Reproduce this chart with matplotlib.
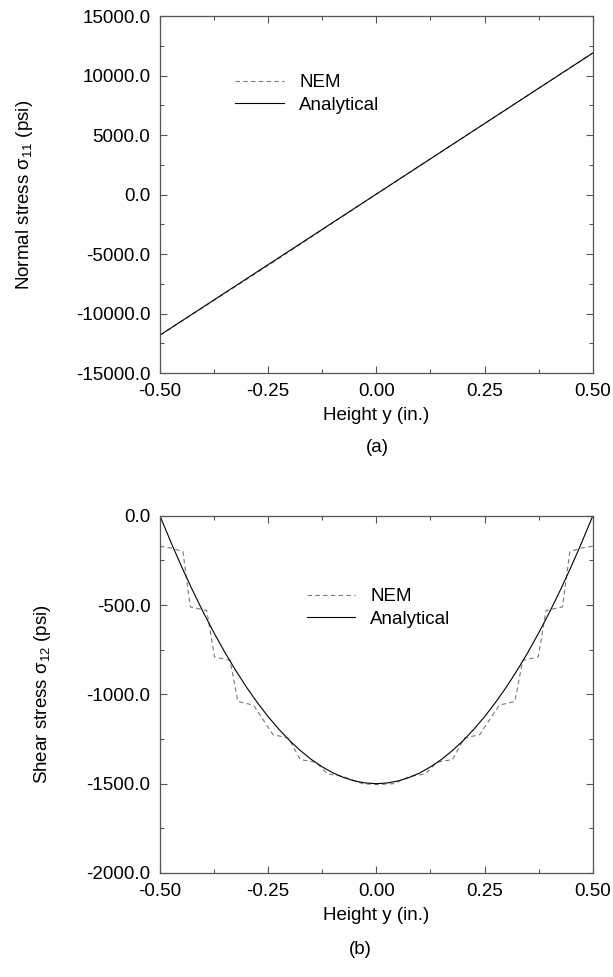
import numpy as np
import matplotlib
matplotlib.use('Agg')
import matplotlib.pyplot as plt
from matplotlib.ticker import MultipleLocator, FormatStrFormatter

# --- DATA ---
# (a) normal stress through the height
height_a = [-0.50, 0.50]
analytical_a = [-11800.0, 11900.0]
height_a_nem = [-0.50, -0.25, 0.00, 0.25, 0.50]
nem_a = [-11800.0, -5950.0, 50.0, 5975.0, 11900.0]

# (b) shear stress through the height
height_b = [-0.500, -0.475, -0.450, -0.425, -0.400, -0.375, -0.350, -0.325, -0.300, -0.275,
            -0.250, -0.225, -0.200, -0.175, -0.150, -0.125, -0.100, -0.075, -0.050, -0.025,
            0.000, 0.025, 0.050, 0.075, 0.100, 0.125, 0.150, 0.175, 0.200, 0.225,
            0.250, 0.275, 0.300, 0.325, 0.350, 0.375, 0.400, 0.425, 0.450, 0.475, 0.500]
analytical_b = [0.0, -146.0, -285.0, -416.0, -540.0, -656.0, -765.0, -866.0, -960.0, -1046.0,
                -1125.0, -1196.0, -1260.0, -1316.0, -1365.0, -1406.0, -1440.0, -1466.0, -1485.0, -1496.0,
                -1500.0, -1496.0, -1485.0, -1466.0, -1440.0, -1406.0, -1365.0, -1316.0, -1260.0, -1196.0,
                -1125.0, -1046.0, -960.0, -866.0, -765.0, -656.0, -540.0, -416.0, -285.0, -146.0, 0.0]

height_b_nem = [-0.500, -0.475, -0.447, -0.430, -0.392, -0.374, -0.338, -0.320, -0.284,
                -0.239, -0.203, -0.176, -0.140, -0.113, -0.077, -0.032, 0.000,
                0.040, 0.077, 0.113, 0.140, 0.176, 0.203, 0.239,
                0.284, 0.320, 0.338, 0.374, 0.392, 0.430, 0.447, 0.475, 0.500]
nem_b = [-170.0, -180.0, -200.0, -510.0, -530.0, -790.0, -810.0, -1040.0, -1060.0,
         -1225.0, -1245.0, -1365.0, -1380.0, -1445.0, -1460.0, -1500.0, -1505.0,
         -1500.0, -1460.0, -1445.0, -1380.0, -1365.0, -1245.0, -1225.0,
         -1060.0, -1040.0, -810.0, -790.0, -530.0, -510.0, -200.0, -180.0, -170.0]

plt.rcParams['font.family'] = ['Liberation Sans', 'DejaVu Sans']
plt.rcParams['mathtext.fontset'] = 'custom'
plt.rcParams['mathtext.rm'] = 'Liberation Sans'
plt.rcParams['mathtext.it'] = 'Liberation Sans'
plt.rcParams['axes.unicode_minus'] = False

FS = 13.5
fig = plt.figure(figsize=(6.13, 9.77), dpi=100)
ax_a = fig.add_axes([0.261, 0.618, 0.706, 0.3655])
ax_b = fig.add_axes([0.261, 0.1065, 0.706, 0.3655])


def style_axes(ax, ylim, ymajor, yminor):
    ax.set_xlim(-0.5, 0.5)
    ax.set_ylim(*ylim)
    ax.xaxis.set_major_locator(MultipleLocator(0.25))
    ax.xaxis.set_minor_locator(MultipleLocator(0.125))
    ax.yaxis.set_major_locator(MultipleLocator(ymajor))
    ax.yaxis.set_minor_locator(MultipleLocator(yminor))
    ax.xaxis.set_major_formatter(FormatStrFormatter('%.2f'))
    ax.yaxis.set_major_formatter(FormatStrFormatter('%.1f'))
    ax.tick_params(which='both', direction='in', top=True, right=True,
                   color='#555555', width=0.8)
    ax.tick_params(which='major', length=5, labelsize=FS, pad=7)
    ax.tick_params(which='minor', length=3)
    for s in ax.spines.values():
        s.set_color('#555555')
        s.set_linewidth(0.9)
    ax.set_xlabel('Height y (in.)', fontsize=FS, labelpad=5)


# (a)
ax_a.plot(height_a_nem, nem_a, color='#777777', lw=0.8, ls=(0, (4, 3)), label='NEM')
ax_a.plot(height_a, analytical_a, color='black', lw=0.8, label='Analytical')
style_axes(ax_a, (-15000, 15000), 5000, 2500)
ax_a.set_ylabel(r'Normal stress σ$_{11}$ (psi)', fontsize=FS, labelpad=29)
ax_a.legend(loc='upper left', bbox_to_anchor=(0.135, 0.885), frameon=False,
            fontsize=FS, handlelength=2.6, handletextpad=0.8, labelspacing=0.3)

# (b)
ax_b.plot(height_b_nem, nem_b, color='#777777', lw=0.8, ls=(0, (4, 3)), label='NEM')
ax_b.plot(height_b, analytical_b, color='black', lw=0.8, label='Analytical')
style_axes(ax_b, (-2000, 0), 500, 250)
ax_b.set_ylabel(r'Shear stress σ$_{12}$ (psi)', fontsize=FS, labelpad=24)
ax_b.legend(loc='upper left', bbox_to_anchor=(0.30, 0.845), frameon=False,
            fontsize=FS, handlelength=2.6, handletextpad=0.8, labelspacing=0.3)

fig.text(377 / 613, 1 - 447 / 977, '(a)', ha='center', va='center', fontsize=FS)
fig.text(360 / 613, 1 - 950 / 977, '(b)', ha='center', va='center', fontsize=FS)

fig.savefig('out.png', dpi=100)
